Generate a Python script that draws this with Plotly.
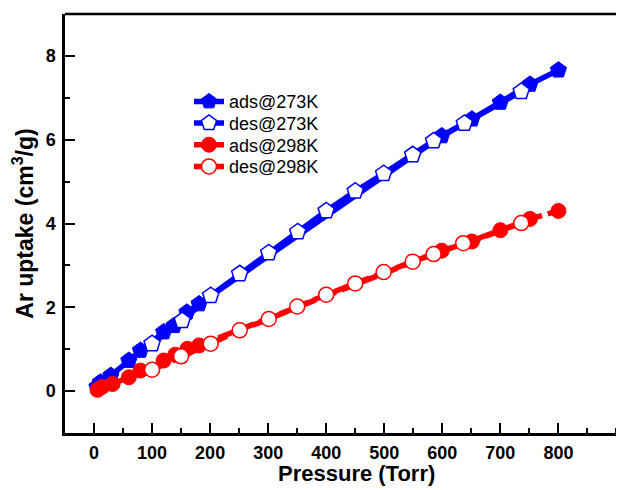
import plotly.graph_objects as go

# ads@273K
p_ads273 = [5, 11, 29, 60, 80, 120, 138, 160, 181, 599, 651, 700, 751, 800]
q_ads273 = [0.10, 0.21, 0.37, 0.73, 0.97, 1.41, 1.56, 1.88, 2.08, 6.09, 6.49, 6.89, 7.32, 7.66]
# des@273K
p_des273 = [100, 152, 201, 251, 301, 351, 400, 450, 499, 549, 585, 638, 736]
q_des273 = [1.13, 1.68, 2.28, 2.80, 3.30, 3.80, 4.30, 4.77, 5.19, 5.64, 5.97, 6.39, 7.15]
# ads@298K
p_ads298 = [6, 14, 32, 60, 80, 120, 140, 161, 181, 599, 651, 700, 751, 800]
q_ads298 = [0.03, 0.10, 0.17, 0.33, 0.49, 0.73, 0.87, 1.01, 1.09, 3.35, 3.57, 3.84, 4.11, 4.30]
# des@298K
p_des298 = [100, 150, 201, 251, 301, 350, 400, 450, 499, 549, 585, 636, 736]
q_des298 = [0.51, 0.83, 1.13, 1.45, 1.72, 2.02, 2.30, 2.57, 2.84, 3.09, 3.27, 3.53, 4.01]

x_ticks = [0, 100, 200, 300, 400, 500, 600, 700, 800]
y_ticks = [0, 2, 4, 6, 8]

BLUE = "#0000ff"
RED = "#ff0000"
FONT = "Arial, Liberation Sans, sans-serif"

fig = go.Figure()
fig.add_trace(go.Scatter(
    x=p_ads273, y=q_ads273, name="ads@273K", mode="lines+markers", legend="legend",
    line=dict(color=BLUE, width=5.5),
    marker=dict(symbol="pentagon", size=17, color=BLUE, line=dict(color=BLUE, width=1))))
fig.add_trace(go.Scatter(
    x=p_des273, y=q_des273, name="des@273K", mode="lines+markers", legend="legend2",
    line=dict(color=BLUE, width=5.5),
    marker=dict(symbol="pentagon", size=17, color="white", line=dict(color=BLUE, width=1.5))))
fig.add_trace(go.Scatter(
    x=p_ads298, y=q_ads298, name="ads@298K", mode="lines+markers", legend="legend3",
    line=dict(color=RED, width=5.5, dash="16px,6px"),
    marker=dict(symbol="circle", size=15, color=RED, line=dict(color=RED, width=1))))
fig.add_trace(go.Scatter(
    x=p_des298, y=q_des298, name="des@298K", mode="lines+markers", legend="legend4",
    line=dict(color=RED, width=5.5, dash="16px,6px"),
    marker=dict(symbol="circle", size=15, color="white", line=dict(color=RED, width=1.5))))

# page has an 8px body margin; plot area in page px: x 65..624, y 14..433
def leg(ypx):
    return dict(x=(189 - 65) / 559, y=(433 - ypx) / 419, xanchor="left", yanchor="middle",
                font=dict(size=18, family=FONT, color="black"),
                bgcolor="rgba(0,0,0,0)")

fig.update_layout(
    width=616, height=482,
    margin=dict(l=57, r=0, t=6, b=57, autoexpand=False),
    paper_bgcolor="white", plot_bgcolor="white",
    font=dict(family=FONT, color="black"),
    showlegend=True,
    legend=leg(101.7), legend2=leg(123.3), legend3=leg(145.0), legend4=leg(166.7),
    shapes=[dict(type="line", xref="paper", yref="paper", x0=0, x1=1, y0=1, y1=1,
                 line=dict(color="black", width=2.5))],
    annotations=[dict(text="<b>Pressure (Torr)</b>", xref="paper", yref="paper",
                      x=(356 - 65) / 559, y=0, yshift=-40, xanchor="center", yanchor="middle",
                      showarrow=False, font=dict(size=22, family=FONT, color="black"))],
)
fig.update_xaxes(
    range=[-50, 913], showgrid=False, zeroline=False, automargin=False,
    showline=True, linecolor="black", linewidth=2.5, mirror=False,
    ticks="inside", ticklen=10, tickwidth=2, tickcolor="black",
    tickvals=x_ticks, ticktext=[f"<b>{v}</b>" for v in x_ticks],
    tickfont=dict(size=18, family=FONT, color="black"), ticklabelstandoff=2,
    minor=dict(ticks="inside", ticklen=5, tickwidth=2, tickcolor="black", dtick=50, tick0=0, showgrid=False),
)
fig.update_yaxes(
    range=[-1, 9], showgrid=False, zeroline=False, automargin=False,
    showline=True, linecolor="black", linewidth=2.5, mirror=False,
    ticks="inside", ticklen=10, tickwidth=2, tickcolor="black",
    tickvals=y_ticks, ticktext=[f"<b>{v}</b>" for v in y_ticks],
    tickfont=dict(size=18, family=FONT, color="black"), ticklabelstandoff=3,
    minor=dict(ticks="inside", ticklen=5, tickwidth=2, tickcolor="black", dtick=1, tick0=0, showgrid=False),
    title=dict(text="<b>Ar uptake (cm<sup>3</sup>/g)</b>", font=dict(size=23, family=FONT, color="black"), standoff=6),
)

fig.write_html("out.html")
